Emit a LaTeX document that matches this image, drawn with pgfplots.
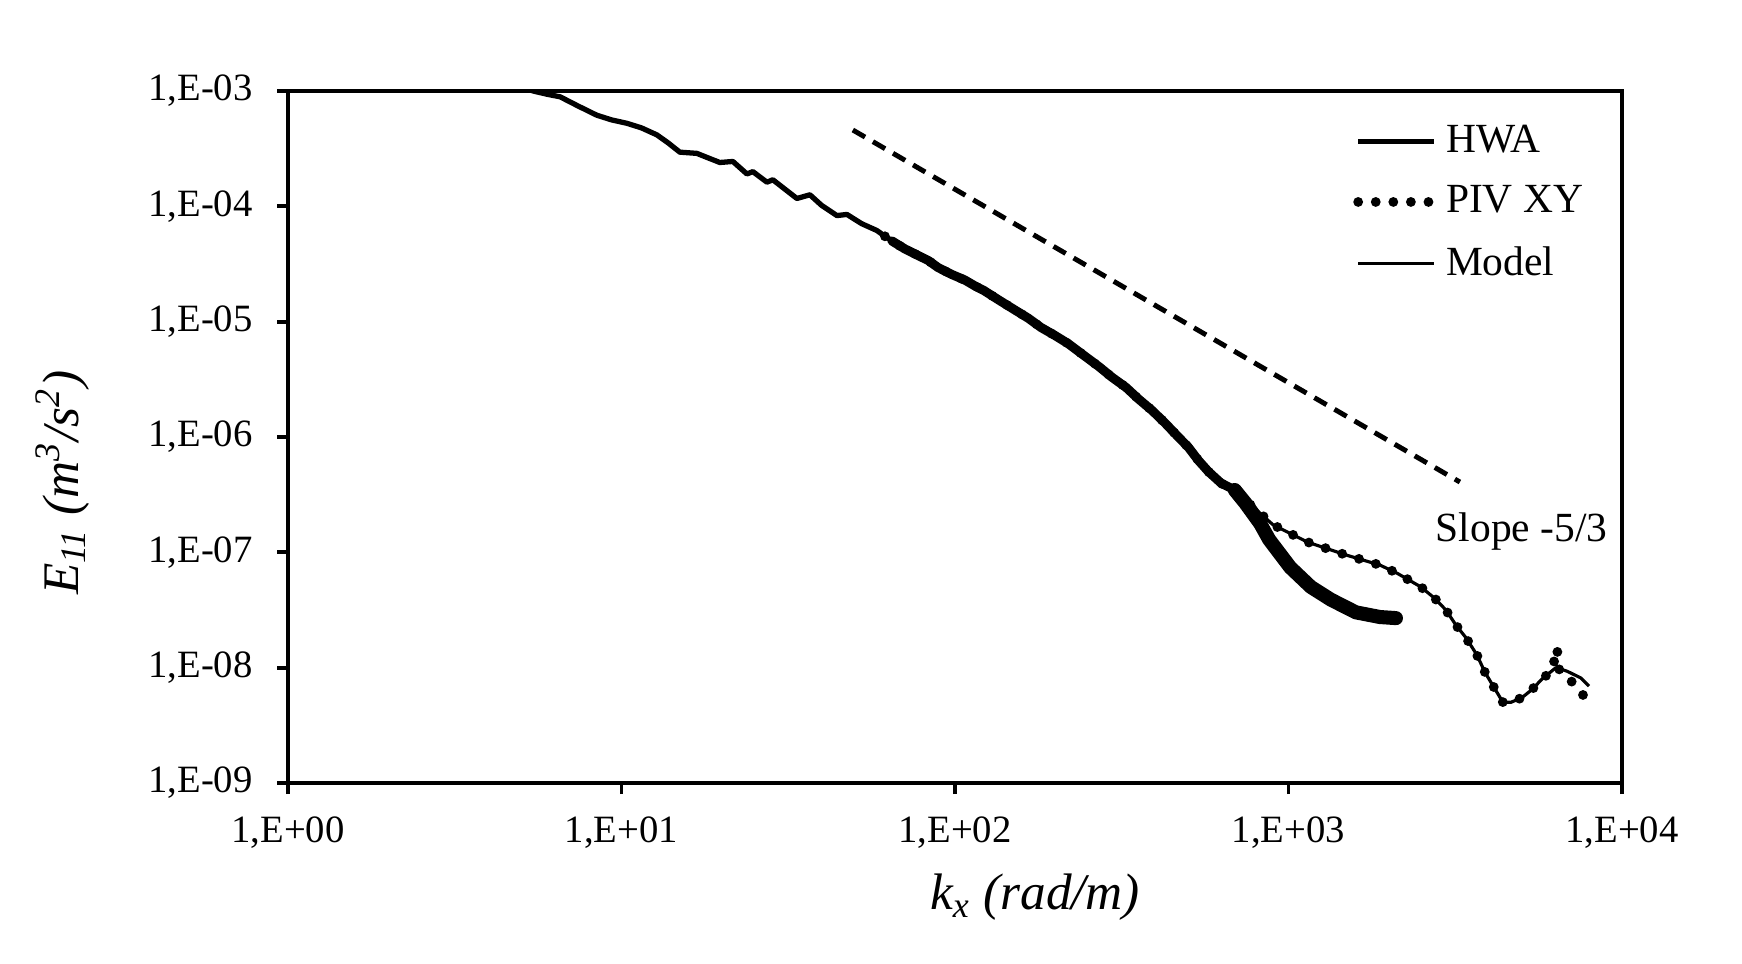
\documentclass[border=0pt]{standalone}
\usepackage{fontspec}
\setmainfont{Liberation Serif}
\usepackage{pgfplots}
\pgfplotsset{compat=1.18}

\newcommand{\tickfont}{\fontsize{11}{13}\selectfont}
\newcommand{\legfont}{\fontsize{11.8}{14}\selectfont}
\newcommand{\labfont}{\fontsize{14.6}{17}\selectfont}

\begin{document}
\begin{tikzpicture}
\begin{axis}[
    name=ax, at={(0,0)}, anchor=south west,
    scale only axis, width=13.34cm, height=6.92cm,
    xmode=log, ymode=log,
    xmin=1, xmax=1e4, ymin=1e-9, ymax=1e-3,
    xtick={1,10,100,1000,10000},
    xticklabels={{1,E+00},{1,E+01},{1,E+02},{1,E+03},{1,E+04}},
    ytick={1e-9,1e-8,1e-7,1e-6,1e-5,1e-4,1e-3},
    yticklabels={{1,E-09},{1,E-08},{1,E-07},{1,E-06},{1,E-05},{1,E-04},{1,E-03}},
    xminorticks=false, yminorticks=false,
    xtick pos=bottom, ytick pos=left,
    tick align=outside, major tick length=0.11cm,
    tick style={line width=1.1pt, black},
    axis line style={line width=1.1pt},
    ticklabel style={font=\tickfont},
    xticklabel style={yshift=-0.1cm},
    yticklabel style={xshift=-0.12cm},
    xlabel={\textit{k\textsubscript{x} (rad/m)}},
    ylabel={\textit{E\textsubscript{11} (m\textsuperscript{3}/s\textsuperscript{2})}},
    every axis x label/.style={at={(axis description cs:0.56,-0.165)}, anchor=center, font=\labfont},
    every axis y label/.style={at={(axis description cs:-0.169,0.434)}, anchor=center, rotate=90, font=\labfont},
    legend style={at={(axis description cs:0.798,0.962)}, anchor=north west,
        draw=none, fill=none, font=\legfont, inner sep=0pt, row sep=0.14cm},
    legend cell align=left,
    legend image code/.code={\draw[#1] (0cm,0cm) -- (0.76cm,0cm);},
]

% HWA
\addplot[black, line width=1.5pt, line join=round] coordinates {
(4.898,1.122e-3) (5.433,1.00e-3) (6.026,9.33e-4) (6.546,8.91e-4) (7.413,7.41e-4)
(8.433,6.17e-4) (9.333,5.62e-4) (10.38,5.25e-4) (11.48,4.79e-4) (12.76,4.17e-4)
(13.80,3.55e-4) (14.96,2.95e-4) (16.83,2.88e-4) (18.20,2.63e-4) (19.72,2.40e-4)
(21.58,2.45e-4) (23.77,1.91e-4) (24.77,2.00e-4) (27.29,1.62e-4) (28.44,1.70e-4)
(30.90,1.41e-4) (33.57,1.17e-4) (36.73,1.26e-4) (39.81,1.02e-4) (44.26,8.32e-5)
(47.42,8.51e-5) (52.48,7.08e-5) (58.34,6.17e-5) (61.66,5.50e-5) (64.71,5.01e-5)
(70.79,4.27e-5) (77.98,3.72e-5) (83.18,3.39e-5) (88.92,2.95e-5) (97.72,2.57e-5)
(107.2,2.29e-5) (114.8,2.04e-5) (122.2,1.86e-5) (134.9,1.55e-5) (151.4,1.26e-5)
(166.0,1.07e-5) (181.1,8.91e-6) (199.5,7.59e-6) (218.3,6.46e-6) (245.5,5.01e-6)
(270.4,4.07e-6) (295.1,3.31e-6) (325.8,2.69e-6) (354.8,2.14e-6) (389.9,1.70e-6)
(426.6,1.32e-6) (457.1,1.07e-6) (501.2,8.13e-7) (535.8,6.31e-7) (575.4,5.01e-7)
(628.1,3.98e-7) (690.2,3.47e-7) (741.3,2.69e-7) (822.2,1.78e-7) (875.0,1.29e-7)
(1012,7.41e-8) (1167,5.01e-8) (1340,3.89e-8) (1592,3.02e-8) (1879,2.75e-8)
(2138,2.69e-8)
};
\addlegendentry{HWA}
% HWA, noisy part drawn as a wider band
\addplot[black, line width=2.6pt, line cap=round, line join=round, forget plot] coordinates {
(64.71,5.01e-5) (70.79,4.27e-5) (77.98,3.72e-5) (83.18,3.39e-5) (88.92,2.95e-5)
(97.72,2.57e-5) (107.2,2.29e-5) (114.8,2.04e-5) (122.2,1.86e-5) (134.9,1.55e-5)
(151.4,1.26e-5) (166.0,1.07e-5) (181.1,8.91e-6) (199.5,7.59e-6) (218.3,6.46e-6)
(245.5,5.01e-6) (270.4,4.07e-6) (295.1,3.31e-6) (325.8,2.69e-6) (354.8,2.14e-6)
(389.9,1.70e-6) (426.6,1.32e-6) (457.1,1.07e-6) (501.2,8.13e-7) (535.8,6.31e-7)
(575.4,5.01e-7) (628.1,3.98e-7) (690.2,3.47e-7)
};
\addplot[black, line width=4pt, line cap=round, line join=round, forget plot] coordinates {
(690.2,3.47e-7) (741.3,2.69e-7) (822.2,1.78e-7) (875.0,1.29e-7)
(1012,7.41e-8) (1167,5.01e-8) (1340,3.89e-8) (1592,3.02e-8)
(1879,2.75e-8) (2100,2.69e-8)
};

% PIV XY
\addplot[black, line width=2.8pt, line cap=round, dash pattern=on 0pt off 5pt] coordinates {
(61.66,5.50e-5) (64.71,5.01e-5) (70.79,4.27e-5) (77.98,3.72e-5) (83.18,3.39e-5)
(88.92,2.95e-5) (97.72,2.57e-5) (107.2,2.29e-5) (114.8,2.04e-5) (122.2,1.86e-5)
(134.9,1.55e-5) (151.4,1.26e-5) (166.0,1.07e-5) (181.1,8.91e-6) (199.5,7.59e-6)
(218.3,6.46e-6) (245.5,5.01e-6) (270.4,4.07e-6) (295.1,3.31e-6) (325.8,2.69e-6)
(354.8,2.14e-6) (389.9,1.70e-6) (426.6,1.32e-6) (457.1,1.07e-6) (501.2,8.13e-7)
(535.8,6.31e-7) (575.4,5.01e-7) (628.1,3.98e-7) (741.3,2.84e-7) (899.5,1.73e-7)
(1138,1.23e-7) (1476,9.55e-8) (1879,7.76e-8) (2113,6.61e-8) (2495,5.01e-8)
(2748,3.98e-8) (2965,3.16e-8) (3177,2.34e-8) (3404,1.82e-8) (3673,1.29e-8)
(3882,9.12e-9) (4130,6.76e-9) (4395,5.01e-9) (4645,5.01e-9) (5012,5.50e-9)
(5370,6.46e-9) (5794,8.13e-9) (6166,9.33e-9) (6383,1.48e-8) (6486,9.55e-9)
(6839,8.32e-9) (7345,6.76e-9) (7745,5.50e-9)
};
\addlegendentry{PIV XY}

% Model
\addplot[black, line width=0.9pt, line join=round] coordinates {
(426.6,1.32e-6) (501.2,8.13e-7) (575.4,5.01e-7) (631.0,3.98e-7) (741.3,2.84e-7)
(899.5,1.73e-7) (1138,1.23e-7) (1476,9.55e-8) (1879,7.76e-8) (2113,6.61e-8)
(2495,5.01e-8) (2748,3.98e-8) (2965,3.16e-8) (3177,2.34e-8) (3404,1.82e-8)
(3673,1.29e-8) (3882,9.12e-9) (4130,6.76e-9) (4395,5.01e-9) (4645,5.01e-9)
(5012,5.50e-9) (5370,6.46e-9) (5794,8.13e-9) (6339,1.00e-8) (6839,9.33e-9)
(7534,8.13e-9) (7962,6.92e-9)
};
\addlegendentry{Model}

% slope -5/3 reference line
\addplot[black, line width=1.4pt, dash pattern=on 4pt off 2.6pt, forget plot] coordinates {
(49.4,4.59e-4) (3266,4.07e-7)
};

\node[anchor=base west, inner sep=0pt, font=\legfont] at (axis cs:2750,1.23e-7) {Slope -5/3};
\end{axis}
\pgfresetboundingbox
\useasboundingbox (-2.88cm,-1.80cm) rectangle (14.54cm,7.83cm);
\end{tikzpicture}
\end{document}
